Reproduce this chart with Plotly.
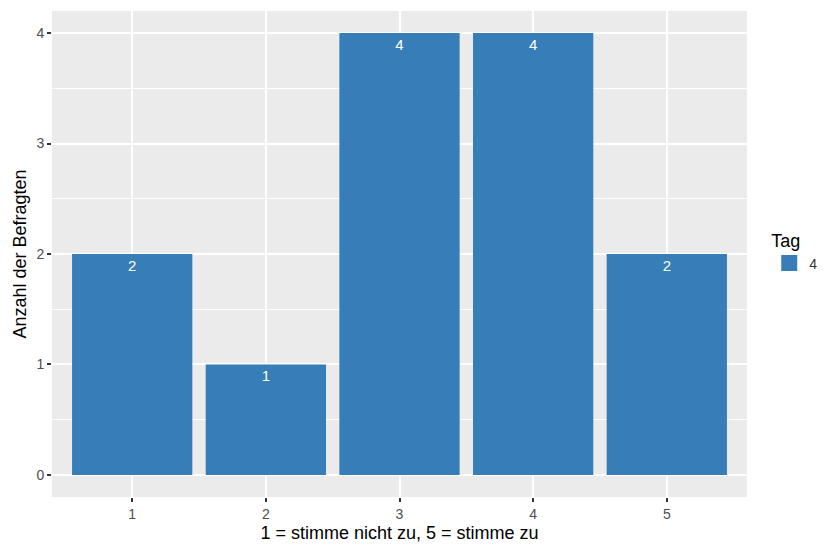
import plotly.graph_objects as go

categories = [1, 2, 3, 4, 5]
counts = [2, 1, 4, 4, 2]
series_name = "4"
legend_title = "Tag"
x_title = "1 = stimme nicht zu, 5 = stimme zu"
y_title = "Anzahl der Befragten"
bar_color = "#377EB8"

fig = go.Figure()
fig.add_trace(go.Bar(
    x=categories, y=counts, width=0.9, name=series_name,
    marker=dict(color=bar_color, line=dict(width=0)),
    text=[str(c) for c in counts], textposition="inside",
    insidetextanchor="end", textangle=0,
    textfont=dict(color="white", size=15, family="Liberation Sans"),
    showlegend=False, legendgroup="tag",
))
# legend key (larger square, like ggplot's key)
fig.add_trace(go.Scatter(
    x=[None], y=[None], mode="markers", name=series_name, legendgroup="tag",
    marker=dict(symbol="square", size=28, color=bar_color),
    showlegend=True,
))

# page body has an 8px default margin, so the figure is 8px smaller
fig.update_layout(
    width=819, height=539,
    margin=dict(l=44, r=80, t=3, b=50, autoexpand=False),
    paper_bgcolor="white", plot_bgcolor="#EBEBEB",
    font=dict(family="Liberation Sans, Arial, sans-serif"),
    showlegend=True,
    legend=dict(
        title=dict(text=legend_title, font=dict(size=18, color="black")),
        font=dict(size=14, color="#333"),
        x=1.032, xanchor="left", y=0.505, yanchor="middle",
        bgcolor="rgba(0,0,0,0)", itemsizing="trace", itemwidth=30,
    ),
)
fig.update_xaxes(
    range=[0.4, 5.6], tickvals=categories, ticktext=[str(c) for c in categories],
    showgrid=True, gridcolor="white", gridwidth=2, zeroline=False,
    ticks="outside", ticklen=4, tickcolor="#333333", tickwidth=1.5,
    tickfont=dict(size=14, color="#4D4D4D"), automargin=False,
    title=dict(text=x_title, font=dict(size=18, color="black"), standoff=5),
)
fig.update_yaxes(
    range=[-0.2, 4.2], tickvals=[0, 1, 2, 3, 4],
    showgrid=True, gridcolor="white", gridwidth=2, zeroline=False,
    minor=dict(dtick=0.5, showgrid=True, gridcolor="white", gridwidth=1),
    ticks="outside", ticklen=4, tickcolor="#333333", tickwidth=1.5,
    tickfont=dict(size=14, color="#4D4D4D"), automargin=False,
    title=dict(text=y_title, font=dict(size=18, color="black"), standoff=5),
)

fig.write_html("out.html")
